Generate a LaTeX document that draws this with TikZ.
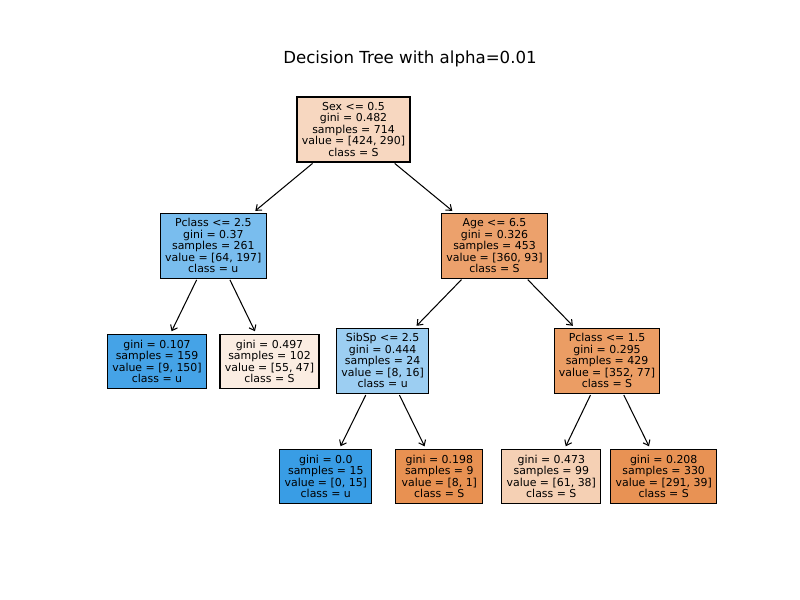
\documentclass[tikz,border=0pt]{standalone}
\usepackage{fontspec}
\setmainfont{DejaVu Sans}
\usetikzlibrary{arrows.meta}
\definecolor{cRoot}{RGB}{247,215,192}
\definecolor{cPcA}{RGB}{121,189,238}
\definecolor{cAge}{RGB}{236,161,108}
\definecolor{cLa}{RGB}{69,163,231}
\definecolor{cLb}{RGB}{251,237,226}
\definecolor{cSib}{RGB}{156,206,242}
\definecolor{cPcB}{RGB}{235,157,100}
\definecolor{cLc}{RGB}{57,157,229}
\definecolor{cLd}{RGB}{232,145,82}
\definecolor{cLe}{RGB}{245,208,180}
\definecolor{cLf}{RGB}{232,146,84}
\tikzset{
  tbox/.style={draw=black, line width=0.75pt, rectangle, align=center, inner sep=0pt,
    font=\fontsize{7.9pt}{8.3pt}\selectfont},
  split/.style={tbox, minimum height=65*0.01in},
  leaf/.style={tbox, minimum height=54*0.01in},
  conn/.style={line width=0.75pt, -{Straight Barb[length=3.5pt,width=5.5pt]}, shorten >=2pt, shorten <=1pt}
}
\begin{document}
\begin{tikzpicture}[x=0.01in, y=-0.01in]
\useasboundingbox (0,0) rectangle (800,600);
\node[anchor=base, font=\fontsize{12pt}{14pt}\selectfont] (title) at (410,64) {Decision Tree with alpha=0.01};

\node[split, fill=cRoot, minimum width=113*0.01in] (root) at (353.5,129.5)
  {Sex <= 0.5\\gini = 0.482\\samples = 714\\value = [424, 290]\\class = S};
\node[split, fill=cPcA, minimum width=106*0.01in] (pca) at (213.3,245.6)
  {Pclass <= 2.5\\gini = 0.37\\samples = 261\\value = [64, 197]\\class = u};
\node[split, fill=cAge, minimum width=105.5*0.01in] (age) at (494.5,245.6)
  {Age <= 6.5\\gini = 0.326\\samples = 453\\value = [360, 93]\\class = S};
\node[leaf, fill=cLa, minimum width=99.4*0.01in] (la) at (157,361.3)
  {gini = 0.107\\samples = 159\\value = [9, 150]\\class = u};
\node[leaf, fill=cLb, minimum width=99*0.01in] (lb) at (269.5,361.3)
  {gini = 0.497\\samples = 102\\value = [55, 47]\\class = S};
\node[split, fill=cSib, minimum width=92.7*0.01in] (sib) at (382.6,360.8)
  {SibSp <= 2.5\\gini = 0.444\\samples = 24\\value = [8, 16]\\class = u};
\node[split, fill=cPcB, minimum width=105.5*0.01in] (pcb) at (607,360.8)
  {Pclass <= 1.5\\gini = 0.295\\samples = 429\\value = [352, 77]\\class = S};
\node[leaf, fill=cLc, minimum width=91.7*0.01in] (lc) at (325.8,476.3)
  {gini = 0.0\\samples = 15\\value = [0, 15]\\class = u};
\node[leaf, fill=cLd, minimum width=86.7*0.01in] (ld) at (439.3,476.3)
  {gini = 0.198\\samples = 9\\value = [8, 1]\\class = S};
\node[leaf, fill=cLe, minimum width=98.7*0.01in] (le) at (551.3,476.3)
  {gini = 0.473\\samples = 99\\value = [61, 38]\\class = S};
\node[leaf, fill=cLf, minimum width=106*0.01in] (lf) at (663.7,476.3)
  {gini = 0.208\\samples = 330\\value = [291, 39]\\class = S};

\draw[conn] (root) -- (pca);
\draw[conn] (root) -- (age);
\draw[conn] (pca) -- (la);
\draw[conn] (pca) -- (lb);
\draw[conn] (age) -- (sib);
\draw[conn] (age) -- (pcb);
\draw[conn] (sib) -- (lc);
\draw[conn] (sib) -- (ld);
\draw[conn] (pcb) -- (le);
\draw[conn] (pcb) -- (lf);
\end{tikzpicture}
\end{document}
